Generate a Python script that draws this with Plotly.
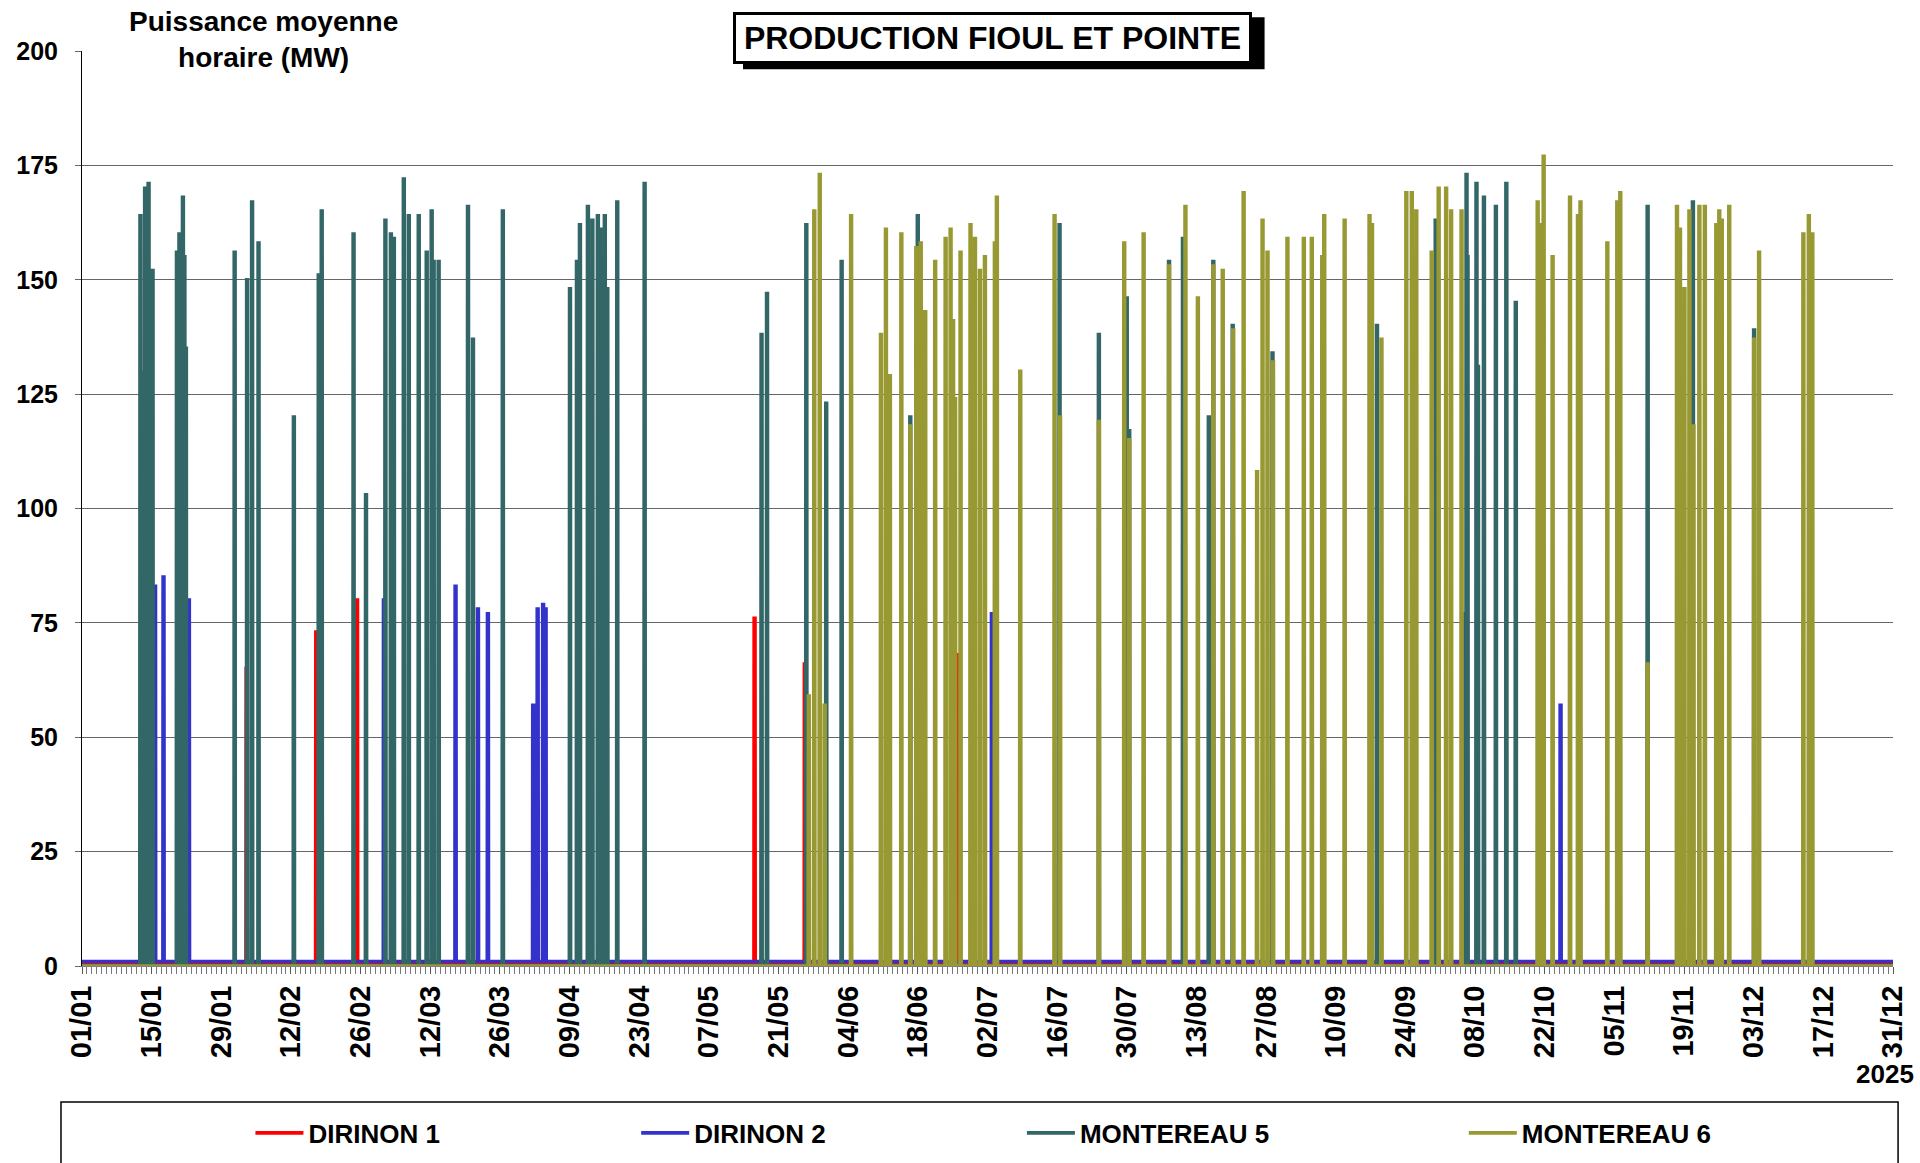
import pandas as pd
import plotly.graph_objects as go

# ---------------- DATA ----------------
YEAR = 2025
year_start = pd.Timestamp("2025-01-01")

# x tick labels (every 14 days)
tick_labels = ["01/01", "15/01", "29/01", "12/02", "26/02", "12/03", "26/03", "09/04",
               "23/04", "07/05", "21/05", "04/06", "18/06", "02/07", "16/07", "30/07",
               "13/08", "27/08", "10/09", "24/09", "08/10", "22/10", "05/11", "19/11",
               "03/12", "17/12", "31/12"]

series_names = ["DIRINON 1", "DIRINON 2", "MONTEREAU 5", "MONTEREAU 6"]

# Spike start times (days since 01/01 00:00) and hourly mean power (MW)
dirinon1_day = [33.0, 47.0, 55.2, 135.1, 145.2, 175.9]
dirinon1_mw = [65, 73, 80, 76, 66, 68]
dirinon1_idle = 0.4

dirinon2_day = [13.7, 14.6, 16.3, 21.4, 60.6, 75.0, 79.5, 81.5, 90.6, 91.5, 92.6, 93.1,
                182.8, 277.6, 297.1]
dirinon2_mw = [85, 83, 85, 80, 80, 83, 78, 77, 57, 78, 79, 78, 77, 77, 57]
dirinon2_idle = 1.0

montereau5_day = [11.66, 11.9, 12.6, 13.3, 14.1, 19.0, 19.5, 20.2, 20.5, 20.8, 30.6, 33.1,
                  34.1, 35.4, 42.5, 47.5, 48.1, 54.5, 57.0, 60.9, 62.0, 62.6, 64.6, 65.6,
                  67.6, 69.2, 70.2, 70.6, 71.6, 77.5, 78.5, 84.5, 98.0, 99.4, 100.0, 101.6,
                  102.5, 103.6, 104.1, 105.0, 105.5, 107.5, 113.0, 136.5, 137.6, 145.5,
                  149.5, 152.6, 166.4, 167.9, 196.4, 204.3, 209.9, 210.4, 218.4, 221.2,
                  226.4, 227.3, 231.2, 239.2, 260.2, 272.0, 278.2, 278.4, 280.2, 280.5,
                  281.7, 284.1, 286.2, 288.1, 314.6, 323.7, 336.0]
montereau5_mw = [164, 130, 170, 171, 152, 156, 160, 168, 155, 135, 156, 150,
                 167, 158, 120, 151, 165, 160, 103, 163, 160, 159, 172, 164,
                 164, 156, 165, 154, 154, 166, 137, 165, 148, 154, 162, 166,
                 163, 164, 161, 164, 148, 167, 171, 138, 147, 162,
                 123, 154, 120, 164, 162, 138, 146, 117, 154, 159,
                 120, 154, 140, 134, 140, 163, 173, 155, 171, 131,
                 168, 166, 171, 145, 166, 167, 139]
montereau5_idle = 0.0

montereau6_day = [146.0, 147.1, 148.2, 149.2, 154.5, 160.5, 161.5, 162.3, 164.6, 166.4,
                  167.6, 168.5, 169.4, 171.4, 173.5, 174.5, 175.0, 175.4, 176.5, 178.5,
                  179.4, 180.4, 181.4, 183.4, 183.8, 188.5, 195.4, 196.5, 204.3, 209.4,
                  210.4, 213.3, 218.4, 221.7, 224.2, 227.3, 229.2, 231.3, 233.4, 236.1,
                  237.2, 238.2, 239.3, 242.2, 245.5, 247.1, 249.2, 249.6, 253.7, 258.7,
                  259.2, 261.1, 266.1, 267.2, 268.1, 271.2, 272.6, 274.1, 275.1, 277.2,
                  292.5, 292.9, 293.7, 295.5, 299.0, 300.6, 301.1, 306.5, 308.5, 309.1,
                  314.6, 320.5, 321.1, 322.0, 323.0, 323.8, 325.0, 326.1, 328.4, 329.0,
                  329.5, 331.0, 336.0, 337.0, 345.9, 347.0, 347.7]
montereau6_mw = [59, 165, 173, 57, 164, 138, 161, 129, 160, 118,
                 157, 158, 143, 154, 159, 161, 141, 124, 156, 162,
                 159, 152, 155, 158, 168, 130, 164, 120, 119, 158,
                 115, 160, 153, 166, 146, 153, 152, 139, 169, 108,
                 163, 156, 132, 159, 159, 159, 155, 164, 163, 164,
                 162, 137, 169, 169, 165, 156, 170, 170, 165, 165,
                 167, 162, 177, 155, 168, 164, 167, 158, 167, 169,
                 66, 166, 161, 148, 165, 118, 166, 166, 162, 165,
                 163, 166, 137, 156, 160, 164, 160]
montereau6_idle = 0.0

colors = ["#FF0000", "#3333CC", "#336666", "#999933"]

FONT = "Liberation Sans, Arial, sans-serif"


def build(days, mws, idle, run_hours=4):
    xs = [year_start]
    ys = [idle]
    for d, v in sorted(zip(days, mws)):
        t = year_start + pd.Timedelta(days=d)
        xs += [t - pd.Timedelta(hours=1), t, t + pd.Timedelta(hours=run_hours),
               t + pd.Timedelta(hours=run_hours + 1)]
        ys += [idle, v, v, idle]
    xs.append(pd.Timestamp("2025-12-31 23:00"))
    ys.append(idle)
    return xs, ys


all_series = [
    (dirinon1_day, dirinon1_mw, dirinon1_idle),
    (dirinon2_day, dirinon2_mw, dirinon2_idle),
    (montereau5_day, montereau5_mw, montereau5_idle),
    (montereau6_day, montereau6_mw, montereau6_idle),
]

legend_ids = ["legend", "legend2", "legend3", "legend4"]
legend_x = [0.093, 0.306, 0.519, 0.763]

fig = go.Figure()
for i, (days, mws, idle) in enumerate(all_series):
    xs, ys = build(days, mws, idle)
    fig.add_trace(go.Scatter(
        x=xs, y=ys, mode="lines", name=series_names[i],
        line=dict(color=colors[i], width=3.6),
        legend=legend_ids[i], showlegend=True,
    ))

legend_common = dict(
    orientation="h", yanchor="middle", y=-0.1825, xanchor="left",
    font=dict(family=FONT, size=26, color="black", weight="bold"),
    bgcolor="rgba(0,0,0,0)", borderwidth=0, itemwidth=48,
)
layout_legends = {}
for lid, lx in zip(legend_ids, legend_x):
    layout_legends[lid] = dict(legend_common, x=lx)

tick_vals = [year_start + pd.Timedelta(days=14 * k) for k in range(len(tick_labels))]

fig.update_layout(
    width=1920, height=1163,
    margin=dict(l=82, r=27, t=51, b=197, autoexpand=False),
    paper_bgcolor="white", plot_bgcolor="white",
    font=dict(family=FONT, color="black"),
    **layout_legends,
    xaxis=dict(
        type="date",
        range=[year_start, pd.Timestamp("2025-12-31")],
        tickmode="array", tickvals=tick_vals, ticktext=tick_labels,
        tickangle=-90,
        tickfont=dict(family=FONT, size=29, color="black", weight="bold"),
        ticks="outside", ticklen=7, tickcolor="#555555",
        minor=dict(dtick=86400000, tick0="2025-01-01", ticks="outside", ticklen=7,
                   tickcolor="#777777", showgrid=False),
        showgrid=False, zeroline=False,
        showline=True, linecolor="#808080", linewidth=1,
    ),
    yaxis=dict(
        range=[0, 200], dtick=25, tick0=0,
        tickfont=dict(family=FONT, size=25, color="black", weight="bold"),
        ticks="outside", ticklen=6, tickcolor="#666666",
        ticklabelstandoff=12,
        showgrid=True, gridcolor="#666666", gridwidth=1,
        zeroline=False,
        showline=True, linecolor="black", linewidth=1,
    ),
    shapes=[
        # legend frame
        dict(type="rect", xref="paper", yref="paper",
             x0=-0.0116, x1=1.0028, y0=-0.24, y1=-0.1486,
             line=dict(color="black", width=1.5), fillcolor="rgba(0,0,0,0)", layer="above"),
        # title shadow
        dict(type="rect", xref="paper", yref="paper",
             x0=0.3650, x1=0.6530, y0=0.9800, y1=1.0370,
             line=dict(color="black", width=0), fillcolor="black", layer="above"),
    ],
    annotations=[
        # title
        dict(text="<b>PRODUCTION FIOUL ET POINTE</b>", xref="paper", yref="paper",
             x=0.5028, y=1.0142, xanchor="center", yanchor="middle", showarrow=False,
             width=505, height=38,
             font=dict(family=FONT, size=32, color="black"),
             bgcolor="white", bordercolor="black", borderwidth=3, borderpad=4),
        # y-axis title
        dict(text="<b>Puissance moyenne<br>horaire (MW)</b>", xref="paper", yref="paper",
             x=0.100, y=1.013, xanchor="center", yanchor="middle", showarrow=False,
             font=dict(family=FONT, size=28, color="black"),
             bgcolor="white", borderpad=10),
        # year
        dict(text="<b>%d</b>" % YEAR, xref="paper", yref="paper",
             x=1.0127, y=-0.118, xanchor="right", yanchor="middle", showarrow=False,
             font=dict(family=FONT, size=26, color="black")),
    ],
)

fig.write_html("out.html", config={"displayModeBar": False},
               post_script="document.body.style.margin='0';document.body.style.overflow='hidden';")
